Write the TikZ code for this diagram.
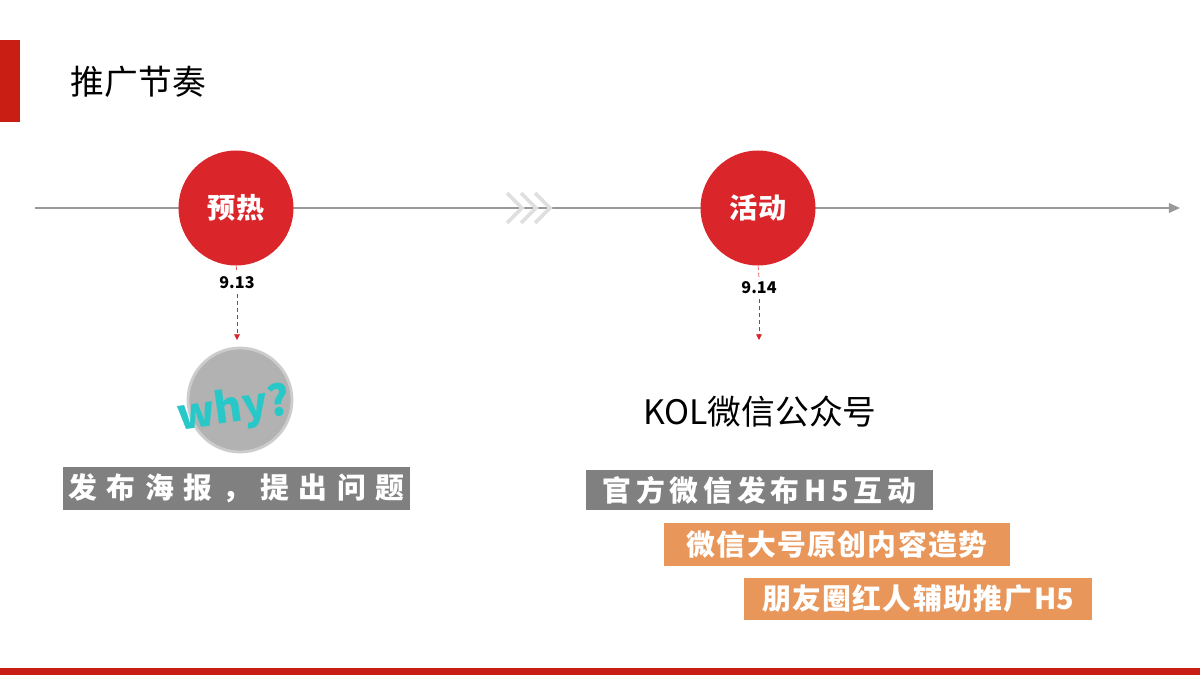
\documentclass[tikz,border=0pt]{standalone}
\usepackage{fontspec}
\setmainfont{Noto Sans CJK SC}
\usetikzlibrary{arrows.meta}
\definecolor{myred}{RGB}{218,37,42}
\definecolor{bar}{RGB}{200,30,20}
\definecolor{gbox}{RGB}{128,128,128}
\definecolor{obox}{RGB}{232,150,90}
\definecolor{teal}{RGB}{40,200,200}
\tikzset{
 circ/.style={circle,fill=myred,minimum size=115*0.025cm,inner sep=0,text=white,font=\fontsize{20}{20}\selectfont\bfseries},
 lab/.style={inner sep=0,minimum height=43*0.025cm,text=white,font=\fontsize{20.5}{20}\selectfont\bfseries},
 date/.style={font=\fontsize{11.5}{11}\selectfont\bfseries\itshape},
 darr/.style={myred,densely dashed,-{Triangle[length=4pt,width=4pt]}}
}
\begin{document}
\begin{tikzpicture}[x=0.025cm,y=-0.025cm]
\useasboundingbox (0,0) rectangle (1200,675);
\fill[bar] (0,40) rectangle (20,122);
\fill[bar] (0,668) rectangle (1200,675);
\node[anchor=west,font=\fontsize{24}{24}\selectfont] (title) at (66,82) {推广节奏};
\coordinate (s) at (35,208); \coordinate (e) at (1180,208);
\draw[gray!80,line width=1.2pt,-{Triangle[length=8pt,width=7pt]}] (s) -- (e);
\foreach \dx in {0,14,28}
  \draw[gray!25,line width=2.6pt] (507+\dx,193) -- (522+\dx,208) -- (507+\dx,223);
\node[circ] (c1) at (236,208) {预热};
\node[circ] (c2) at (758,208) {活动};
\node[date] (d1) at (237,283) {9.13};
\node[date] (d2) at (759,288) {9.14};
\draw[myred,densely dashed] (c1.south) -- (d1.north);
\draw[myred,densely dashed] (c2.south) -- (d2.north);
\coordinate (a1) at (237,340); \coordinate (a2) at (759,340);
\draw[darr] (d1.south) -- (a1);
\draw[darr] (d2.south) -- (a2);
\fill[gray!60,draw=gray!40,line width=2pt] (240,400) circle (52);
\node[text=teal,font=\fontsize{30}{30}\selectfont\bfseries,rotate=8] (why) at (234,410) {why?};
\node[lab,fill=gbox,minimum width=347*0.025cm] (b1) at (236.5,488) {发\,\,布\,\,海\,\,报\,\,，\,\,提\,\,出\,\,问\,\,题};
\node[font=\fontsize{24}{24}\selectfont] (kol) at (760,412) {KOL微信公众号};
\node[lab,fill=gbox,minimum width=347*0.025cm,minimum height=40*0.025cm] (b2) at (759.5,490) {官\,方\,微\,信\,发\,布\,H\,5\,互\,动};
\node[lab,fill=obox,minimum width=346*0.025cm] (b3) at (837,544) {微\kern1pt信\kern1pt大\kern1pt号\kern1pt原\kern1pt创\kern1pt内\kern1pt容\kern1pt造\kern1pt势};
\node[lab,fill=obox,minimum width=348*0.025cm,minimum height=42*0.025cm] (b4) at (918,599) {朋\kern1pt友\kern1pt圈\kern1pt红\kern1pt人\kern1pt辅\kern1pt助\kern1pt推\kern1pt广\kern1pt H5};
\end{tikzpicture}
\end{document}
